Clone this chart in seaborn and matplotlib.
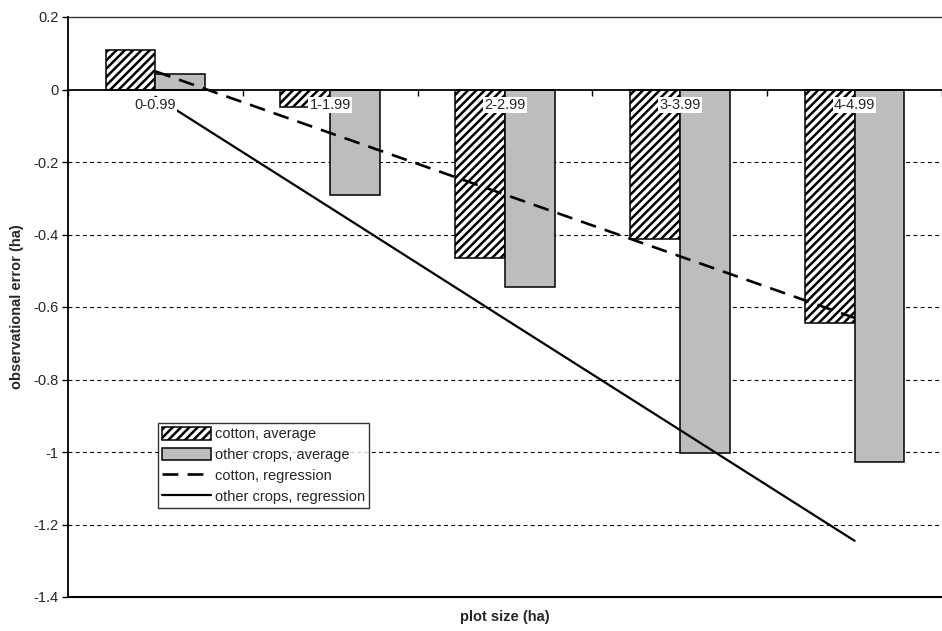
"""
Observational error of plot area estimates by plot size class, cotton vs. other crops,
with the bar averages and fitted regression lines.
"""
import matplotlib as mpl
mpl.use("Agg")
import matplotlib.pyplot as plt
from matplotlib.lines import Line2D
from matplotlib.patches import Patch
from matplotlib.ticker import FixedLocator, FuncFormatter
import numpy as np
import pandas as pd
import seaborn as sns

SIZE_CLASSES = ["0-0.99", "1-1.99", "2-2.99", "3-3.99", "4-4.99"]
SERIES = ["cotton, average", "other crops, average"]
COTTON_AVG = [0.11, -0.047, -0.466, -0.413, -0.643]
OTHER_AVG = [0.042, -0.29, -0.545, -1.004, -1.028]
COTTON_REG = [0.05, -0.12, -0.29, -0.46, -0.63]
OTHER_REG = [-0.02, -0.326, -0.633, -0.939, -1.245]
Y_TICKS = [0.2, 0.0, -0.2, -0.4, -0.6, -0.8, -1.0, -1.2, -1.4]

COLORS = {"cotton, average": "#ffffff", "other crops, average": "#bdbdbd"}
FONT = ["Liberation Sans", "DejaVu Sans"]
COTTON_HATCH = "////"


def setup_style():
    sns.set_theme(style="white")
    mpl.rcParams.update({
        "font.family": FONT,
        "font.size": 10.5,
        "hatch.linewidth": 1.8,
        "hatch.color": "black",
        "axes.axisbelow": False,
    })


def load_plot_data() -> pd.DataFrame:
    rows = []
    for series, values in zip(SERIES, [COTTON_AVG, OTHER_AVG]):
        for size, val in zip(SIZE_CLASSES, values):
            rows.append({"size": size, "series": series, "error": val})
    return pd.DataFrame(rows)


def make_figure(df: pd.DataFrame) -> plt.Figure:
    setup_style()
    fig = plt.figure(figsize=(9.42, 6.31), dpi=100)
    ax = fig.add_axes([68 / 942, 1 - 597 / 631, 1 - 68 / 942, (597 - 17) / 631])

    sns.barplot(
        data=df, x="size", y="error", hue="series",
        order=SIZE_CLASSES, hue_order=SERIES, palette=COLORS,
        width=0.57, saturation=1, edgecolor="black", linewidth=1.1,
        legend=False, ax=ax, zorder=1,
    )
    for bar in ax.containers[0]:
        bar.set_hatch(COTTON_HATCH)

    pos = np.arange(len(SIZE_CLASSES))
    ax.plot(pos, COTTON_REG, color="black", linewidth=1.9, dashes=(6, 3.5), zorder=2)
    ax.plot(pos, OTHER_REG, color="black", linewidth=1.6, zorder=2)

    ax.set_xlim(-0.5, len(SIZE_CLASSES) - 0.5)
    ax.set_ylim(-1.4, 0.2)
    ax.set_axisbelow(False)

    # y axis: Excel-style labels and dashed gridlines
    ax.yaxis.set_major_locator(FixedLocator(Y_TICKS))
    ax.yaxis.set_major_formatter(FuncFormatter(lambda v, _: f"{0 if abs(v) < 1e-9 else v:g}"))
    ax.tick_params(axis="y", which="major", left=True, direction="out", length=4,
                   width=1, color="black", labelsize=10.5, pad=3)
    for y in Y_TICKS[2:-1]:
        ax.axhline(y, color="black", linewidth=0.8, linestyle=(0, (3.5, 3)), zorder=0)
    ax.axhline(-1.4, color="black", linewidth=1.5, clip_on=False, zorder=4)

    # x axis sits on zero; category labels below it with white boxes
    ax.spines["bottom"].set_position(("data", 0))
    ax.spines["bottom"].set_linewidth(1.3)
    ax.spines["bottom"].set_color("black")
    ax.spines["left"].set_linewidth(1.3)
    ax.spines["left"].set_color("black")
    ax.spines["top"].set_linewidth(1.0)
    ax.spines["top"].set_color("#333333")
    ax.spines["right"].set_visible(False)

    ax.set_xticks(pos)
    ax.set_xticklabels(SIZE_CLASSES)
    ax.set_xticks(np.arange(-0.5, len(SIZE_CLASSES)), minor=True)
    ax.tick_params(axis="x", which="major", bottom=True, length=0, labelsize=10.5, pad=6)
    ax.tick_params(axis="x", which="minor", bottom=True, direction="out", length=4,
                   width=1, color="black")
    for lbl in ax.get_xticklabels():
        lbl.set_bbox(dict(facecolor="white", edgecolor="none", pad=0.8))

    ax.set_xlabel("plot size (ha)", fontweight="bold", fontsize=10.5)
    ax.set_ylabel("observational error (ha)", fontweight="bold", fontsize=10.5)
    ax.xaxis.set_label_coords(0.5, -0.022)
    ax.yaxis.set_label_coords(-0.05, 0.5)

    handles = [
        Patch(facecolor=COLORS[SERIES[0]], edgecolor="black", hatch=COTTON_HATCH, linewidth=1.1),
        Patch(facecolor=COLORS[SERIES[1]], edgecolor="black", linewidth=1.1),
        Line2D([], [], color="black", linewidth=1.9, dashes=(6, 3.5)),
        Line2D([], [], color="black", linewidth=1.6),
    ]
    labels = SERIES + ["cotton, regression", "other crops, regression"]
    leg = ax.legend(
        handles, labels, loc="lower left", bbox_to_anchor=(0.103, 0.153),
        borderaxespad=0, frameon=True, fancybox=False, shadow=False,
        fontsize=10.5, handlelength=3.3, handleheight=0.95, handletextpad=0.3,
        labelspacing=0.45, borderpad=0.3,
    )
    leg.get_frame().set_edgecolor("black")
    leg.get_frame().set_linewidth(1.0)
    leg.set_zorder(6)
    return fig


def main():
    df = load_plot_data()
    fig = make_figure(df)
    fig.savefig("out.png", dpi=100, facecolor="white")
    plt.close(fig)


if __name__ == "__main__":
    main()
